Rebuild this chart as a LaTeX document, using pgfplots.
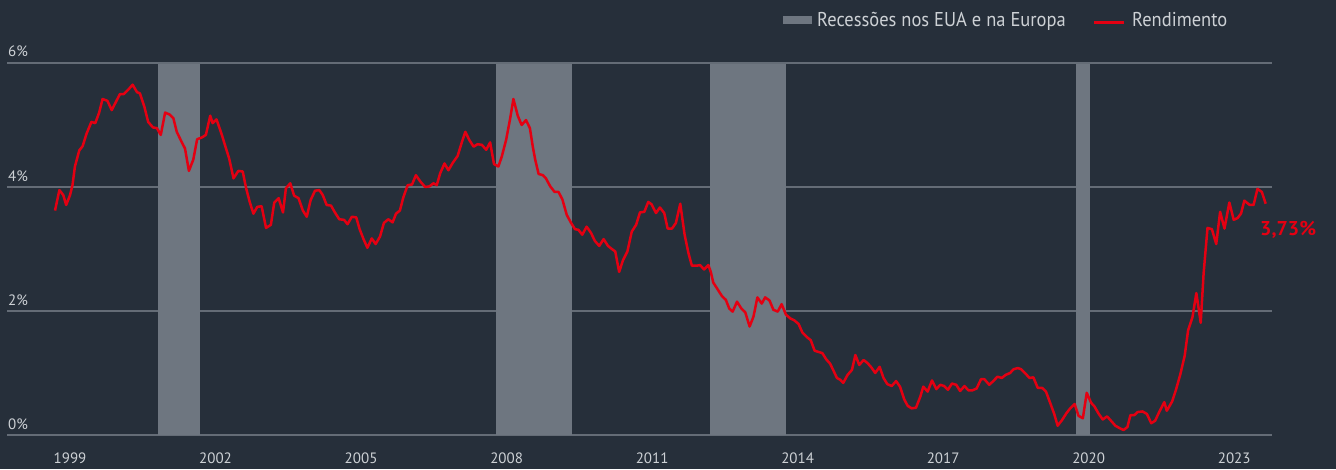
\documentclass[border=0pt]{standalone}
\usepackage{pgfplots}
\pgfplotsset{compat=1.18}
\usepackage{fontspec}
\setmainfont{PT Sans}
\newfontfamily\legendfont[FakeStretch=0.925]{PT Sans}
\definecolor{bgcol}{RGB}{38,47,58}
\definecolor{bandcol}{RGB}{110,118,128}
\definecolor{gridcol}{RGB}{100,108,118}
\definecolor{redcol}{RGB}{228,0,18}
\definecolor{txtcol}{RGB}{205,209,213}
\begin{document}
\begin{tikzpicture}[x=1pt,y=1pt]
\fill[bgcol] (0,0) rectangle (1336,469);
\begin{axis}[
  at={(7pt,34pt)}, anchor=south west,
  scale only axis, width=1265pt, height=372pt,
  xmin=1997.70, xmax=2023.78, ymin=0, ymax=6,
  axis line style={draw=none},
  ytick={0,2,4,6}, yticklabels={0\%,2\%,4\%,6\%},
  xtick={1999,2002,2005,2008,2011,2014,2017,2020,2023},
  xticklabels={1999,2002,2005,2008,2011,2014,2017,2020,2023},
  ymajorgrids, grid style={gridcol, line width=1.3pt},
  major tick length=0pt, tick style={draw=none},
  yticklabel style={anchor=base west, inner sep=0pt, xshift=1pt, yshift=6pt, text=txtcol, font=\fontsize{15}{15}\selectfont},
  xticklabel style={anchor=base, inner sep=0pt, yshift=-28pt, text=txtcol, font=\fontsize{15}{15}\selectfont},
  clip=false,
]
% recessions
\addplot[fill=bandcol, draw=none] coordinates {(2000.81,0) (2000.81,5.98) (2001.68,5.98) (2001.68,0)} --cycle;
\addplot[fill=bandcol, draw=none] coordinates {(2007.78,0) (2007.78,5.98) (2009.35,5.98) (2009.35,0)} --cycle;
\addplot[fill=bandcol, draw=none] coordinates {(2012.20,0) (2012.20,5.98) (2013.76,5.98) (2013.76,0)} --cycle;
\addplot[fill=bandcol, draw=none] coordinates {(2019.74,0) (2019.74,5.98) (2020.03,5.98) (2020.03,0)} --cycle;
% yield
\addplot[redcol, line width=2.5pt, line join=round] table {
x y
1998.69 3.62
1998.78 3.95
1998.86 3.87
1998.92 3.71
1999.00 3.87
1999.05 4.03
1999.10 4.33
1999.19 4.59
1999.26 4.66
1999.34 4.86
1999.44 5.05
1999.52 5.03
1999.60 5.20
1999.67 5.42
1999.77 5.39
1999.86 5.24
1999.95 5.38
2000.03 5.50
2000.11 5.50
2000.20 5.57
2000.29 5.65
2000.38 5.53
2000.44 5.51
2000.53 5.30
2000.61 5.05
2000.71 4.96
2000.79 4.95
2000.87 4.84
2000.96 5.20
2001.05 5.17
2001.13 5.11
2001.20 4.89
2001.28 4.76
2001.37 4.62
2001.45 4.26
2001.54 4.44
2001.62 4.77
2001.72 4.80
2001.80 4.84
2001.89 5.15
2001.94 5.03
2002.02 5.09
2002.13 4.84
2002.20 4.66
2002.28 4.46
2002.37 4.14
2002.47 4.26
2002.56 4.25
2002.63 3.98
2002.70 3.77
2002.78 3.57
2002.86 3.68
2002.95 3.69
2003.04 3.34
2003.14 3.39
2003.21 3.75
2003.30 3.82
2003.39 3.59
2003.45 3.98
2003.54 4.06
2003.62 3.86
2003.71 3.82
2003.80 3.62
2003.88 3.52
2003.96 3.79
2004.05 3.94
2004.14 3.95
2004.21 3.87
2004.29 3.71
2004.38 3.70
2004.46 3.59
2004.55 3.48
2004.65 3.47
2004.72 3.40
2004.81 3.52
2004.90 3.51
2004.97 3.32
2005.05 3.16
2005.13 3.02
2005.22 3.17
2005.30 3.08
2005.39 3.20
2005.47 3.42
2005.56 3.48
2005.65 3.43
2005.72 3.57
2005.80 3.62
2005.87 3.83
2005.96 4.03
2006.05 4.04
2006.13 4.19
2006.22 4.09
2006.32 4.00
2006.41 4.01
2006.49 4.06
2006.56 4.03
2006.63 4.22
2006.72 4.38
2006.80 4.27
2006.89 4.39
2006.99 4.50
2007.08 4.73
2007.15 4.89
2007.23 4.76
2007.32 4.65
2007.40 4.69
2007.49 4.68
2007.58 4.60
2007.66 4.72
2007.74 4.37
2007.83 4.33
2007.90 4.49
2007.99 4.76
2008.07 5.09
2008.14 5.42
2008.23 5.15
2008.31 5.00
2008.40 5.08
2008.48 4.95
2008.54 4.65
2008.59 4.44
2008.66 4.21
2008.75 4.19
2008.81 4.14
2008.90 4.01
2008.99 3.92
2009.07 3.92
2009.15 3.80
2009.24 3.55
2009.33 3.42
2009.41 3.32
2009.48 3.31
2009.56 3.23
2009.65 3.36
2009.74 3.26
2009.82 3.13
2009.91 3.05
2010.00 3.16
2010.09 3.05
2010.17 3.00
2010.24 2.96
2010.32 2.63
2010.40 2.82
2010.49 2.96
2010.58 3.28
2010.67 3.39
2010.75 3.59
2010.84 3.60
2010.92 3.76
2010.99 3.72
2011.08 3.58
2011.16 3.67
2011.25 3.58
2011.32 3.33
2011.41 3.33
2011.49 3.42
2011.58 3.73
2011.67 3.23
2011.75 2.93
2011.82 2.73
2011.91 2.73
2011.99 2.74
2012.07 2.67
2012.16 2.74
2012.21 2.63
2012.26 2.46
2012.35 2.35
2012.44 2.24
2012.52 2.18
2012.59 2.04
2012.66 1.99
2012.75 2.15
2012.84 2.04
2012.92 1.98
2013.01 1.75
2013.09 1.91
2013.17 2.22
2013.26 2.12
2013.33 2.22
2013.42 2.17
2013.50 2.02
2013.59 1.99
2013.67 2.11
2013.76 1.94
2013.85 1.88
2013.93 1.85
2014.02 1.79
2014.10 1.65
2014.19 1.58
2014.27 1.53
2014.35 1.36
2014.43 1.34
2014.51 1.32
2014.59 1.22
2014.67 1.15
2014.75 1.02
2014.81 0.92
2014.88 0.89
2014.94 0.84
2015.03 0.97
2015.12 1.05
2015.19 1.29
2015.27 1.13
2015.36 1.21
2015.44 1.16
2015.52 1.09
2015.60 1.00
2015.69 1.10
2015.77 0.92
2015.85 0.82
2015.94 0.79
2016.03 0.87
2016.11 0.78
2016.20 0.57
2016.27 0.47
2016.35 0.43
2016.44 0.44
2016.53 0.62
2016.59 0.78
2016.68 0.70
2016.77 0.88
2016.86 0.74
2016.94 0.81
2017.02 0.79
2017.10 0.73
2017.18 0.83
2017.27 0.81
2017.35 0.71
2017.44 0.79
2017.52 0.72
2017.60 0.72
2017.69 0.75
2017.78 0.90
2017.85 0.90
2017.95 0.81
2018.02 0.86
2018.12 0.94
2018.21 0.92
2018.29 0.97
2018.38 1.00
2018.45 1.06
2018.54 1.08
2018.61 1.06
2018.71 0.98
2018.78 0.92
2018.86 0.93
2018.95 0.76
2019.04 0.76
2019.12 0.70
2019.21 0.51
2019.29 0.34
2019.36 0.15
2019.45 0.24
2019.54 0.35
2019.62 0.43
2019.71 0.50
2019.79 0.31
2019.88 0.27
2019.96 0.68
2020.05 0.52
2020.12 0.46
2020.20 0.35
2020.29 0.25
2020.38 0.30
2020.46 0.23
2020.55 0.15
2020.64 0.11
2020.72 0.08
2020.80 0.13
2020.86 0.32
2020.94 0.32
2021.01 0.37
2021.11 0.38
2021.20 0.34
2021.29 0.19
2021.37 0.23
2021.46 0.38
2021.56 0.53
2021.61 0.39
2021.72 0.54
2021.80 0.73
2021.89 0.98
2021.98 1.28
2022.05 1.69
2022.14 1.90
2022.22 2.29
2022.31 1.81
2022.37 2.61
2022.45 3.34
2022.54 3.32
2022.63 3.08
2022.71 3.60
2022.80 3.33
2022.90 3.75
2022.99 3.47
2023.07 3.50
2023.14 3.57
2023.21 3.78
2023.32 3.71
2023.40 3.71
2023.48 3.97
2023.57 3.92
2023.65 3.73
};
\end{axis}
% legend
\fill[bandcol] (783,445) rectangle (812,453.3);
\node[anchor=base west, inner sep=0pt, text=txtcol, font=\fontsize{20}{20}\selectfont\legendfont] at (817,442.3) {Recessões nos EUA e na Europa};
\draw[redcol, line width=2.5pt] (1094,446.7) -- (1124,446.7);
\node[anchor=base west, inner sep=0pt, text=txtcol, font=\fontsize{20}{20}\selectfont\legendfont] at (1132,442.3) {Rendimento};
% end label
\node[anchor=base west, inner sep=0pt, text=redcol, font=\fontsize{20}{20}\selectfont\bfseries] at (1260,233) {3,73\%};
\end{tikzpicture}
\end{document}
